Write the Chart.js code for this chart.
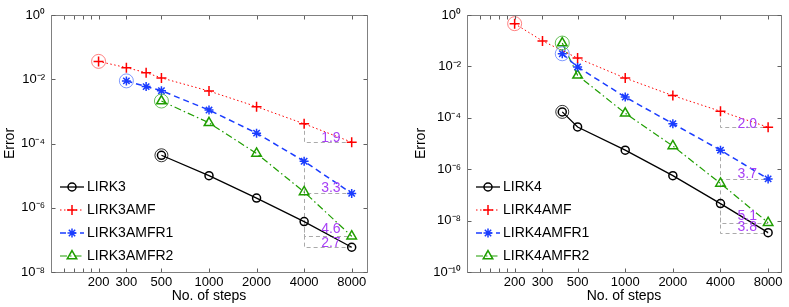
<!DOCTYPE html>
<html><head><meta charset="utf-8">
<script src="https://cdn.jsdelivr.net/npm/chart.js@4/dist/chart.umd.min.js"></script>
<style>
html,body{margin:0;padding:0;background:#fff;}
body{width:789px;height:307px;overflow:hidden;position:relative;}
#w1{position:absolute;left:0;top:0;width:395px;height:307px;}
#w2{position:absolute;left:395px;top:0;width:394px;height:307px;}
</style></head>
<body>
<div id="w1"><canvas id="c1"></canvas></div>
<div id="w2"><canvas id="c2"></canvas></div>
<script>
// ---------- DATA ----------
const xTickLabels = [200, 300, 500, 1000, 2000, 4000, 8000];
const xMinorMarks = [120, 140, 160, 180];
const yTicksLeft = [1, 1e-2, 1e-4, 1e-6, 1e-8];
const yTicksRight = [1, 1e-2, 1e-4, 1e-6, 1e-8, 1e-10];

// left panel (3rd order)
const namesLeft = ['LIRK3', 'LIRK3AMF', 'LIRK3AMFR1', 'LIRK3AMFR2'];
const steps3 = [500, 1000, 2000, 4000, 8000];
const err3 = [4.3e-5, 1.0e-5, 2.0e-6, 3.7e-7, 5.9e-8];
const steps3AMF = [200, 300, 400, 500, 1000, 2000, 4000, 8000];
const err3AMF = [3.6e-2, 2.3e-2, 1.6e-2, 1.1e-2, 4.3e-3, 1.4e-3, 4.1e-4, 1.1e-4];
const steps3R1 = [300, 400, 500, 1000, 2000, 4000, 8000];
const err3R1 = [8.9e-3, 5.9e-3, 4.4e-3, 1.1e-3, 2.1e-4, 2.8e-5, 2.8e-6];
const steps3R2 = [500, 1000, 2000, 4000, 8000];
const err3R2 = [2.1e-3, 4.4e-4, 4.9e-5, 3.1e-6, 1.3e-7];
const slopesLeft = ['2.7', '1.9', '3.3', '4.6'];

// right panel (4th order)
const namesRight = ['LIRK4', 'LIRK4AMF', 'LIRK4AMFR1', 'LIRK4AMFR2'];
const steps4 = [400, 500, 1000, 2000, 4000, 8000];
const err4 = [1.7e-4, 4.4e-5, 5.5e-6, 5.6e-7, 4.6e-8, 3.4e-9];
const steps4AMF = [200, 300, 500, 1000, 2000, 4000, 8000];
const err4AMF = [0.46, 9.8e-2, 2.1e-2, 3.5e-3, 7.3e-4, 1.8e-4, 4.3e-5];
const steps4R1 = [400, 500, 1000, 2000, 4000, 8000];
const err4R1 = [3.1e-2, 9.5e-3, 6.4e-4, 5.9e-5, 5.5e-6, 4.2e-7];
const steps4R2 = [400, 500, 1000, 2000, 4000, 8000];
const err4R2 = [8.1e-2, 4.5e-3, 1.5e-4, 8.0e-6, 2.8e-7, 8.3e-9];
const slopesRight = ['3.8', '2.0', '3.7', '5.1'];

// ---------- STYLE ----------
const FONT = '"Liberation Sans", Arial, Helvetica, sans-serif';
Chart.defaults.font.family = FONT;
const PURPLE = '#a840f5';
const styles = [
  {color: '#000000', dash: [], width: 1.3, point: 'circle', r: 4, ring: '#000000', ringR: 6.5},
  {color: '#ff0000', dash: [1.5, 2.5], width: 1, point: 'cross', r: 5, ring: '#ff6060', ringR: 7},
  {color: '#1a3cff', dash: [6, 4], width: 1.5, point: 'star', r: 4.5, ring: '#6080ff', ringR: 7},
  {color: '#1f9e00', dash: [7, 3, 1.5, 3], width: 1.2, point: 'triangle', r: 5.5, ring: '#40b030', ringR: 7}
];

function sup(n) {
  const m = {'-': '\u207B', '0': '\u2070', '1': '\u00B9', '2': '\u00B2', '3': '\u00B3', '4': '\u2074',
    '5': '\u2075', '6': '\u2076', '7': '\u2077', '8': '\u2078', '9': '\u2079'};
  return String(n).split('').map(c => m[c]).join('');
}
function pts(xs, ys) { return xs.map((x, i) => ({x: x, y: ys[i]})); }

function drawMarker(ctx, style, x, y, r) {
  ctx.beginPath();
  if (style === 'circle') {
    ctx.arc(x, y, r, 0, Math.PI * 2);
  } else if (style === 'cross') {
    ctx.moveTo(x - r, y); ctx.lineTo(x + r, y);
    ctx.moveTo(x, y - r); ctx.lineTo(x, y + r);
  } else if (style === 'star') {
    ctx.moveTo(x - r, y); ctx.lineTo(x + r, y);
    ctx.moveTo(x, y - r); ctx.lineTo(x, y + r);
    const d = r * Math.SQRT1_2;
    ctx.moveTo(x - d, y - d); ctx.lineTo(x + d, y + d);
    ctx.moveTo(x - d, y + d); ctx.lineTo(x + d, y - d);
  } else if (style === 'triangle') {
    let a = 0;
    ctx.moveTo(x + Math.sin(a) * r, y - Math.cos(a) * r);
    a += 2 * Math.PI / 3; ctx.lineTo(x + Math.sin(a) * r, y - Math.cos(a) * r);
    a += 2 * Math.PI / 3; ctx.lineTo(x + Math.sin(a) * r, y - Math.cos(a) * r);
    ctx.closePath();
  }
  ctx.stroke();
}

function makePlugin(names, slopes, yTicks) {
  return {
    id: 'decor',
    beforeDatasetsDraw(chart) {
      const ctx = chart.ctx;
      ctx.save();
      ctx.strokeStyle = '#aaaaaa';
      ctx.lineWidth = 1;
      ctx.setLineDash([4, 3]);
      chart.data.datasets.forEach((ds, i) => {
        const meta = chart.getDatasetMeta(i);
        const i1 = ds.data.findIndex(p => p.x === 4000);
        const i2 = ds.data.findIndex(p => p.x === 8000);
        const p1 = meta.data[i1], p2 = meta.data[i2];
        ctx.beginPath();
        ctx.moveTo(Math.round(p1.x) + 0.5, p1.y);
        ctx.lineTo(Math.round(p1.x) + 0.5, Math.round(p2.y) + 0.5);
        ctx.lineTo(p2.x, Math.round(p2.y) + 0.5);
        ctx.stroke();
      });
      ctx.restore();
    },
    afterDatasetsDraw(chart) {
      const ctx = chart.ctx;
      const a = chart.chartArea;
      const xs = chart.scales.x, ys = chart.scales.y;
      ctx.save();
      // rings around first points
      chart.data.datasets.forEach((ds, i) => {
        const p = chart.getDatasetMeta(i).data[0];
        const st = styles[i];
        ctx.strokeStyle = st.ring;
        ctx.lineWidth = 0.8;
        ctx.setLineDash([]);
        ctx.beginPath();
        ctx.arc(p.x, p.y, st.ringR, 0, Math.PI * 2);
        ctx.stroke();
      });
      // slope labels
      ctx.fillStyle = PURPLE;
      ctx.font = '14px ' + FONT;
      ctx.textAlign = 'center';
      ctx.textBaseline = 'middle';
      chart.data.datasets.forEach((ds, i) => {
        const meta = chart.getDatasetMeta(i);
        const i1 = ds.data.findIndex(p => p.x === 4000);
        const i2 = ds.data.findIndex(p => p.x === 8000);
        const p1 = meta.data[i1], p2 = meta.data[i2];
        ctx.fillText(slopes[i], (p1.x + p2.x) / 2 + 3, p2.y - 0.14 * (p2.y - p1.y) - 1);
      });
      // axes box
      ctx.strokeStyle = '#808080';
      ctx.lineWidth = 1;
      ctx.strokeRect(a.left + 0.5, a.top + 0.5, a.right - a.left, a.bottom - a.top);
      // inner tick marks
      ctx.strokeStyle = '#606060';
      ctx.beginPath();
      const tl = 3.5;
      xMinorMarks.concat(xTickLabels).forEach(v => {
        const px = Math.round(xs.getPixelForValue(v)) + 0.5;
        ctx.moveTo(px, a.bottom); ctx.lineTo(px, a.bottom - tl);
        ctx.moveTo(px, a.top + 1); ctx.lineTo(px, a.top + 1 + tl);
      });
      yTicks.forEach(v => {
        const py = Math.round(ys.getPixelForValue(v)) + 0.5;
        ctx.moveTo(a.left + 1, py); ctx.lineTo(a.left + 1 + tl, py);
        ctx.moveTo(a.right, py); ctx.lineTo(a.right - tl, py);
      });
      ctx.stroke();
      // legend
      const rowY0 = a.bottom - 85, rowH = 23;
      const lx0 = a.left + 9, lx1 = a.left + 33, mx = a.left + 21, tx = a.left + 36;
      chart.data.datasets.forEach((ds, i) => {
        const st = styles[i];
        const y = rowY0 + i * rowH;
        ctx.strokeStyle = st.color;
        ctx.lineWidth = st.width;
        ctx.setLineDash(st.dash);
        ctx.beginPath();
        ctx.moveTo(lx0, y); ctx.lineTo(lx1, y);
        ctx.stroke();
        ctx.setLineDash([]);
        ctx.lineWidth = 1.5;
        drawMarker(ctx, st.point, mx, y, st.r);
        ctx.fillStyle = '#000';
        ctx.font = '14px ' + FONT;
        ctx.textAlign = 'left';
        ctx.textBaseline = 'middle';
        ctx.fillText(names[i], tx, y + 0.5);
      });
      ctx.restore();
    }
  };
}

function makeChart(id, names, series, slopes, yTicks, yMin, xMax, pad, yWidth, titlePad) {
  const datasets = series.map((s, i) => {
    const st = styles[i];
    return {
      label: names[i],
      data: pts(s[0], s[1]),
      borderColor: st.color,
      borderWidth: st.width,
      borderDash: st.dash,
      fill: false,
      tension: 0,
      pointStyle: st.point,
      pointRadius: st.r,
      pointHoverRadius: st.r,
      pointBorderWidth: 1.5,
      pointBorderColor: st.color,
      pointBackgroundColor: 'rgba(0,0,0,0)'
    };
  });
  return new Chart(document.getElementById(id), {
    type: 'line',
    data: {datasets: datasets},
    options: {
      responsive: true,
      maintainAspectRatio: false,
      animation: false,
      events: [],
      layout: {padding: {left: pad.left, right: pad.right, top: 15, bottom: 0}},
      plugins: {legend: {display: false}, tooltip: {enabled: false}},
      scales: {
        x: {
          type: 'logarithmic', min: 100, max: xMax,
          afterBuildTicks: s => { s.ticks = xTickLabels.map(v => ({value: v})); },
          afterFit: s => { s.height = 35; },
          grid: {display: false, drawTicks: false},
          border: {display: false},
          ticks: {autoSkip: false, maxRotation: 0, minRotation: 0, padding: 3, color: '#000',
            font: {size: 13, family: FONT}, callback: v => String(v)},
          title: {display: true, text: 'No. of steps', color: '#000', font: {size: 14, family: FONT},
            padding: {top: 0, bottom: 2}}
        },
        y: {
          type: 'logarithmic', min: yMin, max: 1,
          afterBuildTicks: s => { s.ticks = yTicks.map(v => ({value: v})); },
          afterFit: s => { s.width = yWidth; },
          grid: {display: false, drawTicks: false},
          border: {display: false},
          ticks: {autoSkip: false, padding: 6, color: '#000', font: {size: 13, family: FONT},
            callback: v => '10' + sup(Math.round(Math.log10(v)))},
          title: {display: true, text: 'Error', color: '#000', font: {size: 14, family: FONT},
            padding: {top: titlePad, bottom: 0}}
        }
      }
    },
    plugins: [makePlugin(names, slopes, yTicks)]
  });
}

makeChart('c1', namesLeft,
  [[steps3, err3], [steps3AMF, err3AMF], [steps3R1, err3R1], [steps3R2, err3R2]],
  slopesLeft, yTicksLeft, 1e-8, 10000, {left: 0, right: 28}, 51, 2);
makeChart('c2', namesRight,
  [[steps4, err4], [steps4AMF, err4AMF], [steps4R1, err4R1], [steps4R2, err4R2]],
  slopesRight, yTicksRight, 1e-10, 9650, {left: 16, right: 8}, 56, 2);
</script>
</body></html>
